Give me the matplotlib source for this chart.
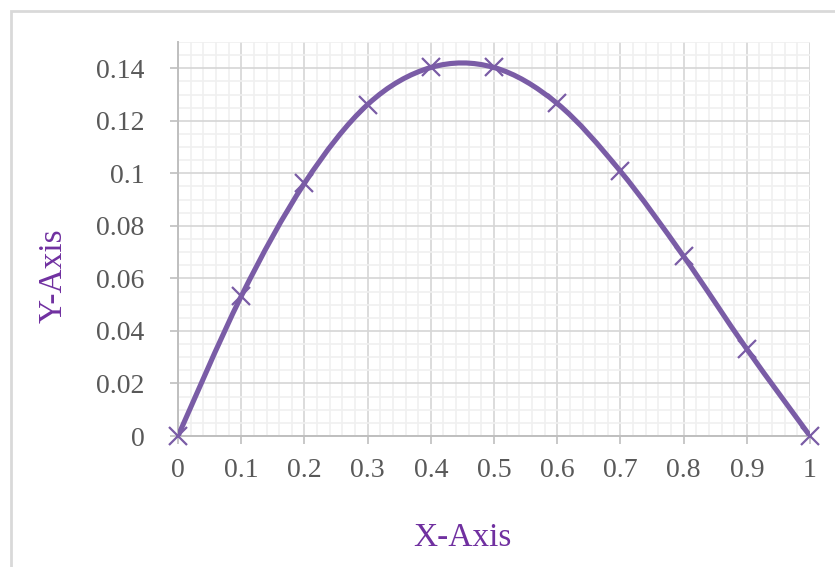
import matplotlib.pyplot as plt
from matplotlib.path import Path
from matplotlib.patches import PathPatch, Rectangle
from matplotlib.ticker import MultipleLocator

plt.rcParams["font.family"] = "Liberation Serif"

x_vals = [0.0, 0.1, 0.2, 0.3, 0.4, 0.5, 0.6, 0.7, 0.8, 0.9, 1.0]
y_vals = [0.0, 0.0532, 0.0962, 0.1262, 0.1403, 0.1403, 0.1266, 0.1008, 0.0684, 0.0331, 0.0]
x_ticks = [0, 0.1, 0.2, 0.3, 0.4, 0.5, 0.6, 0.7, 0.8, 0.9, 1]
x_labels = ["0", "0.1", "0.2", "0.3", "0.4", "0.5", "0.6", "0.7", "0.8", "0.9", "1"]
y_ticks = [0, 0.02, 0.04, 0.06, 0.08, 0.1, 0.12, 0.14]
y_labels = ["0", "0.02", "0.04", "0.06", "0.08", "0.1", "0.12", "0.14"]

LINE = "#7A5CA6"
TITLE = "#7030A0"
TEXT = "#595959"


def smooth_path(xs, ys):
    # Catmull-Rom style cubic Bezier through every point (spreadsheet "smoothed line")
    pts = list(zip(xs, ys))
    verts = [pts[0]]
    codes = [Path.MOVETO]
    n = len(pts)
    for i in range(n - 1):
        p0 = pts[i - 1] if i > 0 else pts[i]
        p1 = pts[i]
        p2 = pts[i + 1]
        p3 = pts[i + 2] if i + 2 < n else pts[i + 1]
        c1 = (p1[0] + (p2[0] - p0[0]) / 6, p1[1] + (p2[1] - p0[1]) / 6)
        c2 = (p2[0] - (p3[0] - p1[0]) / 6, p2[1] - (p3[1] - p1[1]) / 6)
        verts += [c1, c2, p2]
        codes += [Path.CURVE4] * 3
    return Path(verts, codes)


fig = plt.figure(figsize=(8.35, 5.67), dpi=100)
ax = fig.add_axes([0.2132, 0.2310, 0.7569, 0.6949])

ax.set_xlim(0, 1)
ax.set_ylim(0, 0.15)

ax.xaxis.set_minor_locator(MultipleLocator(0.02))
ax.yaxis.set_minor_locator(MultipleLocator(0.005))
ax.grid(which="minor", color="#F0F0F0", linewidth=1.2)
ax.grid(which="major", color="#D6D6D6", linewidth=1.2)
ax.set_axisbelow(True)

ax.add_patch(PathPatch(smooth_path(x_vals, y_vals), facecolor="none",
                       edgecolor=LINE, linewidth=3.7, capstyle="round", zorder=3))
ax.plot(x_vals, y_vals, linestyle="none", marker="x", markersize=13,
        markeredgewidth=1.6, color=LINE, clip_on=False, zorder=4)

ax.set_xticks(x_ticks)
ax.set_xticklabels(x_labels)
ax.set_yticks(y_ticks)
ax.set_yticklabels(y_labels)
ax.tick_params(which="major", direction="out", length=6, width=1.2,
               color="#BFBFBF", labelcolor=TEXT, labelsize=20)
ax.tick_params(axis="x", pad=10)
ax.tick_params(axis="y", pad=18)
ax.tick_params(which="minor", length=0)

for side in ["top", "right"]:
    ax.spines[side].set_visible(False)
for side in ["left", "bottom"]:
    ax.spines[side].set_color("#BFBFBF")
    ax.spines[side].set_linewidth(1.4)

# axis titles, placed relative to the whole chart area
fig.text(462 / 835, 1 - 546 / 567, "X-Axis", fontsize=24, color=TITLE,
         ha="center", va="baseline")
fig.text(53 / 835, 1 - 276 / 567, "Y-Axis", fontsize=24, color=TITLE,
         ha="center", va="center", rotation=90)

# outer chart border
fig.patches.append(Rectangle((11 / 835, -0.1), 1.2, 1 - 11 / 567 + 0.1,
                             transform=fig.transFigure, fill=False,
                             edgecolor="#D9D9D9", linewidth=2))

fig.savefig("out.png", dpi=100)
